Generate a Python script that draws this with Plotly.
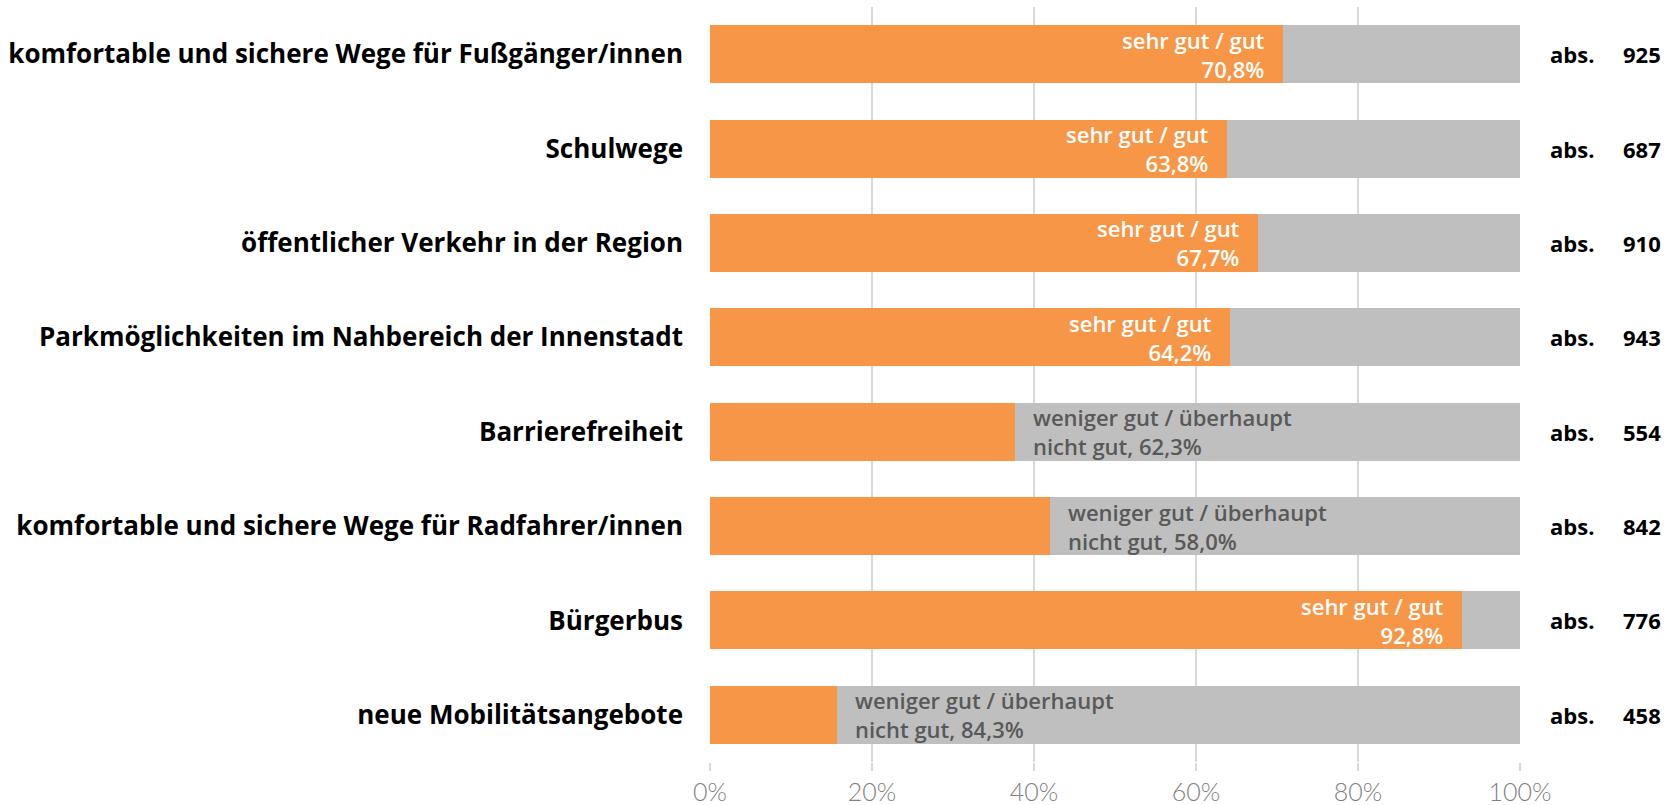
import plotly.graph_objects as go

# Survey items (top to bottom)
categories = [
    "komfortable und sichere Wege für Fußgänger/innen",
    "Schulwege",
    "öffentlicher Verkehr in der Region",
    "Parkmöglichkeiten im Nahbereich der Innenstadt",
    "Barrierefreiheit",
    "komfortable und sichere Wege für Radfahrer/innen",
    "Bürgerbus",
    "neue Mobilitätsangebote",
]
# Share "sehr gut / gut" in percent
good = [70.8, 63.8, 67.7, 64.2, 37.7, 42.0, 92.8, 15.7]
# Share "weniger gut / überhaupt nicht gut" in percent
bad = [29.2, 36.2, 32.3, 35.8, 62.3, 58.0, 7.2, 84.3]
# Number of responses
n_abs = [925, 687, 910, 943, 554, 842, 776, 458]
# Axis ticks
x_ticks = [0, 20, 40, 60, 80, 100]
x_tick_labels = ["0%", "20%", "40%", "60%", "80%", "100%"]

ORANGE = "#F79646"
GREY = "#BFBFBF"
FONT = "Open Sans"

fig = go.Figure()
fig.add_trace(go.Bar(
    y=categories, x=good, orientation="h", name="sehr gut / gut",
    marker=dict(color=ORANGE, line=dict(width=0)), hoverinfo="skip",
))
fig.add_trace(go.Bar(
    y=categories, x=bad, orientation="h", name="weniger gut / überhaupt nicht gut",
    marker=dict(color=GREY, line=dict(width=0)), hoverinfo="skip",
))


def fmt(v):
    return f"{v:.1f}".replace(".", ",")


annotations = []
for cat, g, b, n in zip(categories, good, bad, n_abs):
    if g >= b:
        annotations.append(dict(
            x=g, y=cat, xref="x", yref="y", xanchor="right", yanchor="middle",
            xshift=-16, align="right", showarrow=False,
            text=f"sehr gut / gut<br>{fmt(g)}%",
            font=dict(family=FONT, size=22, color="white", weight=600),
        ))
    else:
        annotations.append(dict(
            x=g, y=cat, xref="x", yref="y", xanchor="left", yanchor="middle",
            xshift=16, align="left", showarrow=False,
            text=f"weniger gut / überhaupt<br>nicht gut, {fmt(b)}%",
            font=dict(family=FONT, size=22, color="#595959", weight=600),
        ))
    annotations.append(dict(
        x=1.0346, y=cat, xref="paper", yref="y", xanchor="left", yanchor="middle",
        showarrow=False, text="abs.",
        font=dict(family=FONT, size=22, color="black", weight=700),
    ))
    annotations.append(dict(
        x=1.1765, y=cat, xref="paper", yref="y", xanchor="right", yanchor="middle",
        showarrow=False, text=str(n),
        font=dict(family=FONT, size=22, color="black", weight=700),
    ))

fig.update_layout(
    width=1672, height=805,
    margin=dict(l=710, r=152, t=7, b=43),
    barmode="stack", bargap=0.386,
    showlegend=False,
    plot_bgcolor="white", paper_bgcolor="white",
    annotations=annotations,
    xaxis=dict(
        range=[0, 100], tickvals=x_ticks, ticktext=x_tick_labels,
        showgrid=True, gridcolor="#D9D9D9", gridwidth=1.5,
        zeroline=False, showline=False, automargin=False,
        ticks="outside", ticklen=8, tickcolor="#D9D9D9", tickwidth=1.5,
        tickfont=dict(family="Lato", size=25, color="#7F7F7F", weight=300),
    ),
    yaxis=dict(
        autorange="reversed", showgrid=False, zeroline=False, showline=False,
        automargin=False, ticks="", ticklabelstandoff=26,
        tickfont=dict(family=FONT, size=26, color="black", weight=700),
    ),
)

fig.write_html("out.html")
